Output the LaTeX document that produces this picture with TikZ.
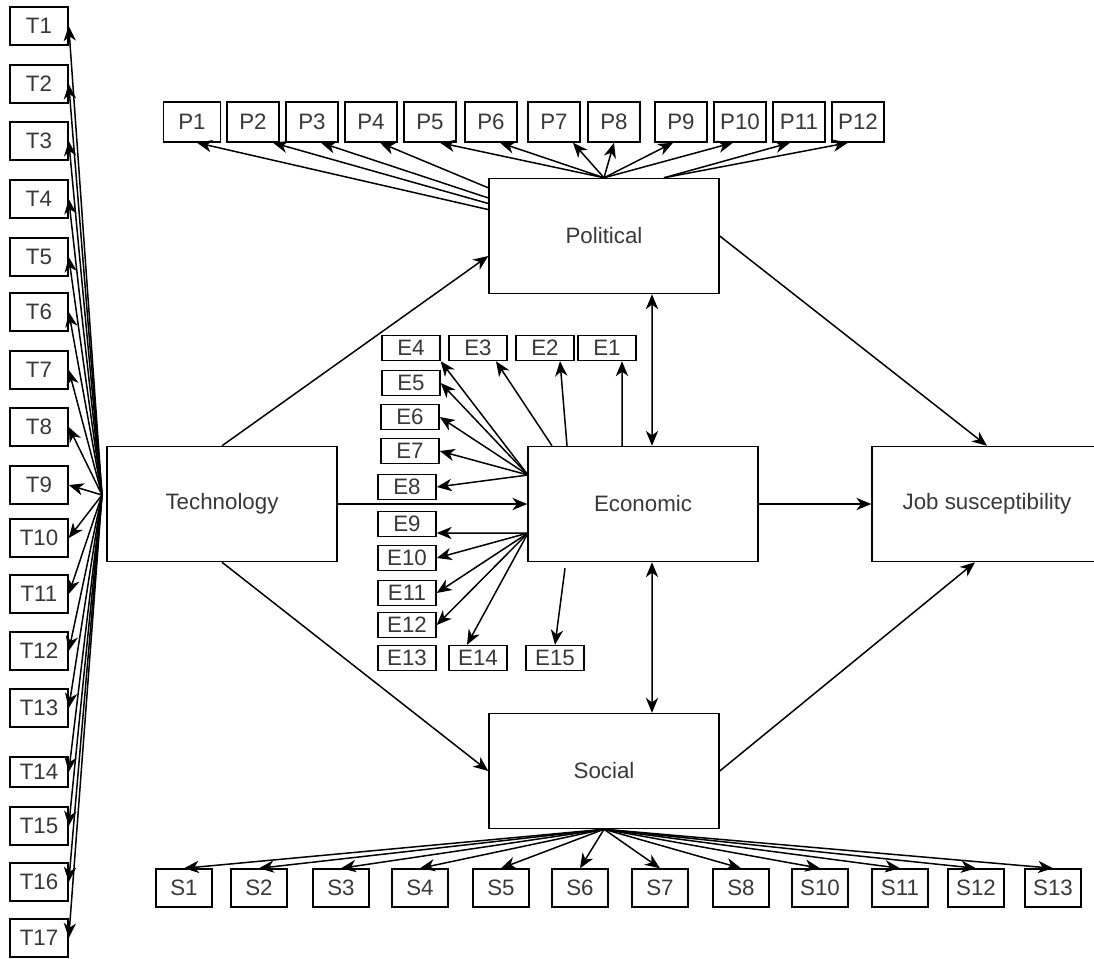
\documentclass[tikz,border=0pt]{standalone}
\usepackage{fontspec}
\setmainfont{Liberation Sans}
\usepackage{tikz}
\usetikzlibrary{arrows.meta, positioning, shapes}
\definecolor{labelgray}{gray}{0.22}

\begin{document}
\begin{tikzpicture}[x=0.02cm, y=-0.02cm, >={Stealth[length=8.5pt, width=7pt, inset=2.6pt]}, line width=0.85pt,
  factor/.style={draw, rectangle, inner sep=0pt, minimum width=4.6cm, minimum height=2.3cm, font=\fontsize{12.7}{15}\selectfont, text=labelgray},
  tbox/.style={draw, rectangle, inner sep=0pt, minimum width=1.16cm, minimum height=0.76cm, font=\fontsize{12.7}{15}\selectfont, text=labelgray},
  pbox/.style={tbox, minimum width=1.04cm, minimum height=0.8cm},
  ebox/.style={tbox, minimum width=1.16cm, minimum height=0.5cm},
  sbox/.style={tbox, minimum width=1.12cm, minimum height=0.76cm}]
\useasboundingbox (0,0) rectangle (1094,958);
\def\pLevel{122}
\def\sLevel{888}

%Factors
\node (tech) at (222,504) [factor] {Technology};
\node (pol) at (604,236) [factor] {Political};
\node (econ) at (643,504) [factor] {Economic};
\node (soc) at (604,771) [factor] {Social};
\node (job) at (987,504) [factor] {Job susceptibility};

%Technology items
\node (T1) at (39,26) [tbox] {T1};
\node (T2) at (39,84) [tbox] {T2};
\node (T3) at (39,141) [tbox] {T3};
\node (T4) at (39,199) [tbox] {T4};
\node (T5) at (39,257) [tbox] {T5};
\node (T6) at (39,312) [tbox] {T6};
\node (T7) at (39,370) [tbox] {T7};
\node (T8) at (39,427) [tbox] {T8};
\node (T9) at (39,485) [tbox] {T9};
\node (T10) at (39,538) [tbox] {T10};
\node (T11) at (39,594) [tbox] {T11};
\node (T12) at (39,651) [tbox] {T12};
\node (T13) at (39,708) [tbox] {T13};
\node (T14) at (39,772) [tbox, minimum height=0.6cm] {T14};
\node (T15) at (39,826) [tbox] {T15};
\node (T16) at (39,882) [tbox] {T16};
\node (T17) at (39,938) [tbox] {T17};

%Political items
\node (P1) at (192,\pLevel) [pbox, minimum width=1.14cm] {P1};
\node (P2) at (253,\pLevel) [pbox] {P2};
\node (P3) at (312,\pLevel) [pbox] {P3};
\node (P4) at (371,\pLevel) [pbox] {P4};
\node (P5) at (430,\pLevel) [pbox] {P5};
\node (P6) at (491,\pLevel) [pbox] {P6};
\node (P7) at (554,\pLevel) [pbox] {P7};
\node (P8) at (614,\pLevel) [pbox] {P8};
\node (P9) at (681,\pLevel) [pbox] {P9};
\node (P10) at (740,\pLevel) [pbox] {P10};
\node (P11) at (799,\pLevel) [pbox] {P11};
\node (P12) at (858,\pLevel) [pbox] {P12};

%Economic items
\node (E1) at (607,348) [ebox] {E1};
\node (E2) at (545,348) [ebox] {E2};
\node (E3) at (478,348) [ebox] {E3};
\node (E4) at (411,348) [ebox] {E4};
\node (E5) at (411,383) [ebox] {E5};
\node (E6) at (410,417) [ebox] {E6};
\node (E7) at (410,451) [ebox] {E7};
\node (E8) at (407,487) [ebox] {E8};
\node (E9) at (407,524) [ebox] {E9};
\node (E10) at (407,558) [ebox] {E10};
\node (E11) at (407,593) [ebox] {E11};
\node (E12) at (407,625) [ebox] {E12};
\node (E13) at (407,658) [ebox] {E13};
\node (E14) at (478,658) [ebox] {E14};
\node (E15) at (555,658) [ebox] {E15};

%Social items
\node (S1) at (184,\sLevel) [sbox] {S1};
\node (S2) at (259,\sLevel) [sbox] {S2};
\node (S3) at (341,\sLevel) [sbox] {S3};
\node (S4) at (420,\sLevel) [sbox] {S4};
\node (S5) at (501,\sLevel) [sbox] {S5};
\node (S6) at (580,\sLevel) [sbox] {S6};
\node (S7) at (660,\sLevel) [sbox] {S7};
\node (S8) at (741,\sLevel) [sbox] {S8};
\node (S10) at (820,\sLevel) [sbox] {S10};
\node (S11) at (900,\sLevel) [sbox] {S11};
\node (S12) at (976,\sLevel) [sbox] {S12};
\node (S13) at (1053,\sLevel) [sbox] {S13};

%Fan points
\coordinate (tfan) at (102,495);
\coordinate (eup) at (528,475);
\coordinate (elow) at (528,533);

%Paths between factors
\draw[->] (tech.north) -- ([yshift=-0.4cm]pol.west);
\draw[->] (tech) -- (econ);
\draw[->] (tech.south) -- (soc.west);
\draw[->] (pol.east) -- (job.north);
\draw[->] (econ) -- (job);
\draw[->] (soc.east) -- ([xshift=-0.24cm]job.south);
\draw[<->] ([xshift=0.96cm]pol.south) -- ([xshift=0.18cm]econ.north);
\draw[<->] ([xshift=0.18cm]econ.south) -- ([xshift=0.96cm]soc.north);

%Technology loadings
\draw[->] (tfan) -- (T1.east);
\draw[->] (tfan) -- (T2.east);
\draw[->] (tfan) -- (T3.east);
\draw[->] (tfan) -- (T4.east);
\draw[->] (tfan) -- (T5.east);
\draw[->] (tfan) -- (T6.east);
\draw[->] (tfan) -- (T7.east);
\draw[->] (tfan) -- (T8.east);
\draw[->] (tfan) -- (T9.east);
\draw[->] (tfan) -- (T10.east);
\draw[->] (tfan) -- (T11.east);
\draw[->] (tfan) -- (T12.east);
\draw[->] (tfan) -- (T13.east);
\draw[->] (tfan) -- (T14.east);
\draw[->] (tfan) -- (T15.east);
\draw[->] (tfan) -- (T16.east);
\draw[->] (tfan) -- (T17.east);

%Political loadings
\draw[->] (pol) -- ([xshift=0.1cm]P1.south);
\draw[->] (pol) -- ([xshift=0.4cm]P2.south);
\draw[->] (pol) -- ([xshift=0.18cm]P3.south);
\draw[->] (pol) -- ([xshift=0.18cm]P4.south);
\draw[->] (pol.north) -- ([xshift=0.2cm]P5.south);
\draw[->] (pol.north) -- ([xshift=0.18cm]P6.south);
\draw[->] (pol.north) -- ([xshift=0.38cm]P7.south);
\draw[->] (pol.north) -- (P8.south);
\draw[->] (pol.north) -- ([xshift=-0.16cm]P9.south);
\draw[->] (pol.north) -- ([xshift=-0.14cm]P10.south);
\draw[->] ([xshift=1.2cm]pol.north) -- ([xshift=-0.18cm]P11.south);
\draw[->] ([xshift=1.2cm]pol.north) -- ([xshift=-0.2cm]P12.south);

%Economic loadings
\draw[->] ([xshift=-0.42cm]econ.north) -- ([xshift=0.3cm]E1.south);
\draw[->] ([xshift=-1.52cm]econ.north) -- ([xshift=0.3cm]E2.south);
\draw[->] ([xshift=-1.82cm]econ.north) -- ([xshift=0.36cm]E3.south);
\draw[->] (eup) -- (E4.south east);
\draw[->] (eup) -- (E5.east);
\draw[->] (eup) -- (E6.east);
\draw[->] (eup) -- (E7.east);
\draw[->] (eup) -- (E8.east);
\draw[->] (elow) -- ([yshift=-0.18cm]E9.east);
\draw[->] (elow) -- (E10.east);
\draw[->] (elow) -- (E11.east);
\draw[->] (elow) -- (E12.east);
\draw[->] (elow) -- ([xshift=-0.22cm]E14.north);
\draw[->] ([xshift=-1.56cm, yshift=-0.12cm]econ.south) -- (E15.north);

%Social loadings
\draw[->] (soc.south) -- (S1.north);
\draw[->] (soc.south) -- (S2.north);
\draw[->] (soc.south) -- (S3.north);
\draw[->] (soc.south) -- (S4.north);
\draw[->] (soc.south) -- (S5.north);
\draw[->] (soc.south) -- (S6.north);
\draw[->] (soc.south) -- (S7.north);
\draw[->] (soc.south) -- (S8.north);
\draw[->] (soc.south) -- (S10.north);
\draw[->] (soc.south) -- (S11.north);
\draw[->] (soc.south) -- (S12.north);
\draw[->] (soc.south) -- (S13.north);

\end{tikzpicture}
\end{document}
